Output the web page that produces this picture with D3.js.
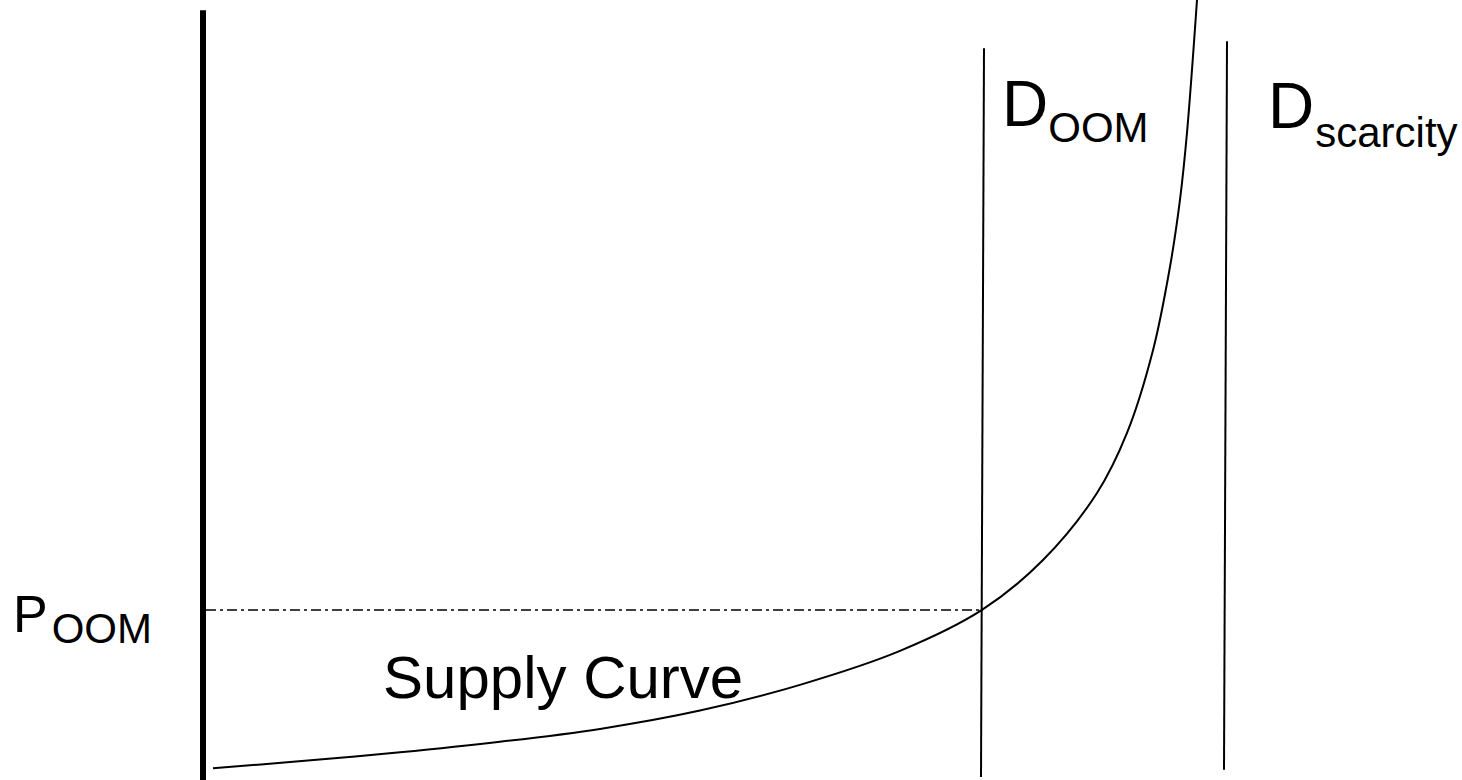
<!DOCTYPE html>
<html>
<head>
<meta charset="utf-8">
<script src="https://cdn.jsdelivr.net/npm/d3@7"></script>
<style>
  html, body { margin: 0; padding: 0; background: #fff; }
  svg { display: block; }
  text { font-family: "Liberation Sans", Arial, sans-serif; fill: #000; }
</style>
</head>
<body>
<div id="chart"></div>
<script>
// supply curve (quantity, price)
var supplyQ = [1.0, 8.7, 19.7, 29.7, 39.7, 49.7, 59.7, 69.7, 77.9, 84.0, 89.4, 92.4, 95.0, 96.7, 97.7, 98.4, 99.4];
var supplyP = [1.5, 2.3, 3.55, 4.9, 6.55, 8.9, 12.2, 16.55, 21.8, 28.2, 36.8, 44.5, 55.1, 65.8, 74.4, 83.0, 100.0];

// demand lines (slightly leaning), quantity at top / bottom
var demandNames = ["OOM", "scarcity"];
var demandQTop = [78.1, 102.4];
var demandQBottom = [77.8, 102.1];
var demandPTop = [93.8, 94.7];
var demandPBottom = [0.4, 1.3];

var priceOOM = 21.8;
var axisTop = 98.7;

var width = 1462, height = 780;

var x = d3.scaleLinear().domain([0, 100]).range([203, 1203]);
var y = d3.scaleLinear().domain([0, 100]).range([780, 0]);

var svg = d3.select("#chart").append("svg")
  .attr("width", width)
  .attr("height", height);

// price axis
svg.append("line")
  .attr("x1", x(0)).attr("x2", x(0))
  .attr("y1", y(axisTop)).attr("y2", y(0))
  .style("stroke", "#000")
  .style("stroke-width", 6);

// P_OOM level, dash-dot
svg.append("line")
  .attr("x1", x(0) + 3).attr("x2", x(supplyQ[8]))
  .attr("y1", y(priceOOM)).attr("y2", y(priceOOM))
  .style("stroke", "#000")
  .style("stroke-width", 1.6)
  .style("stroke-dasharray", "10,4,3,4");

// demand lines
svg.selectAll(".demand")
  .data(demandNames)
  .enter().append("line")
  .attr("class", "demand")
  .attr("x1", function(d, i) { return x(demandQTop[i]); })
  .attr("y1", function(d, i) { return y(demandPTop[i]); })
  .attr("x2", function(d, i) { return x(demandQBottom[i]); })
  .attr("y2", function(d, i) { return y(demandPBottom[i]); })
  .style("stroke", "#000")
  .style("stroke-width", 2);

// supply curve
var pts = supplyQ.map(function(q, i) { return [q, supplyP[i]]; });
var line = d3.line()
  .x(function(d) { return x(d[0]); })
  .y(function(d) { return y(d[1]); })
  .curve(d3.curveCatmullRom.alpha(0.5));

svg.append("path")
  .datum(pts)
  .attr("d", line)
  .style("fill", "none")
  .style("stroke", "#000")
  .style("stroke-width", 2);

// labels
function subLabel(px, py, main, sub, mainSize, subSize, dx, dy) {
  var t = svg.append("text")
    .attr("x", px).attr("y", py)
    .style("font-size", mainSize + "px");
  t.append("tspan").text(main);
  t.append("tspan")
    .attr("dx", dx)
    .attr("dy", dy)
    .style("font-size", subSize + "px")
    .text(sub);
}

subLabel(13, 632, "P", "OOM", 52, 42, 4, 11);
subLabel(1002, 126, "D", "OOM", 64, 42, 0, 16);
subLabel(1268, 128, "D", "scarcity", 64, 42, 1, 19);

svg.append("text")
  .attr("x", 383).attr("y", 698)
  .style("font-size", "60px")
  .text("Supply Curve");
</script>
</body>
</html>
